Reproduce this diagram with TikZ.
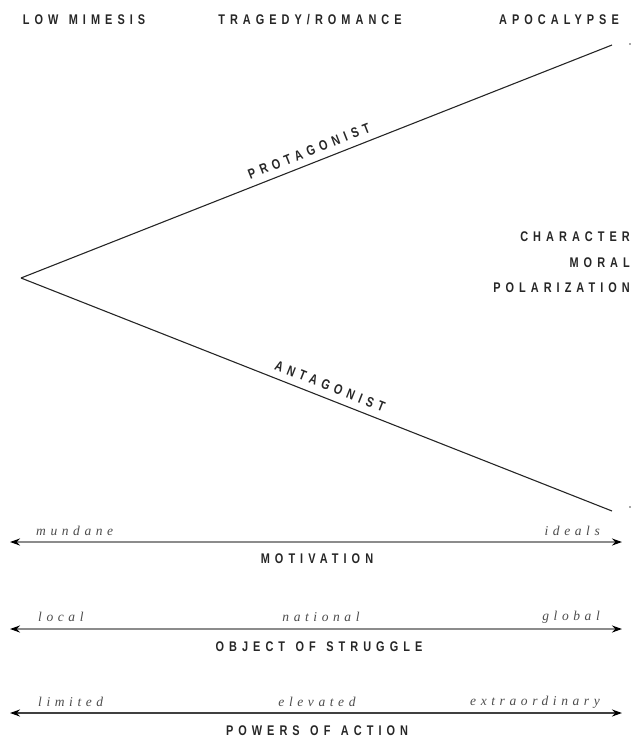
\documentclass[tikz,border=0pt]{standalone}
\usepackage{fontspec}
\usetikzlibrary{arrows.meta}
\newfontfamily\hdfont{Liberation Sans Bold}[FakeStretch=0.78, LetterSpace=36, WordSpace=1.3]
\newfontfamily\labfont{Liberation Serif Italic}[LetterSpace=34, WordSpace=1.5]
\begin{document}
\begin{tikzpicture}[x=1pt,y=-1pt,
  hd/.style={font=\hdfont\fontsize{14}{16}\selectfont, text=black!85, inner sep=0},
  lab/.style={font=\labfont\fontsize{13.5}{15}\selectfont, text=black!70, inner sep=0},
  wedgeline/.style={draw=black!85, line width=1.1pt},
  axisarrow/.style={line width=2.2pt, arrows={Stealth[length=10pt,width=7pt,black]-Stealth[length=10pt,width=7pt,black]}},
  ]
\useasboundingbox (0,0) rectangle (632,740);
% headers
\node[hd] (low) at (84,20) {LOW MIMESIS};
\node[hd] (trag) at (310,20) {TRAGEDY/ROMANCE};
\node[hd] (apoc) at (559,20) {APOCALYPSE};
% right block
\node[hd, anchor=east] (ch1) at (630,237) {CHARACTER};
\node[hd, anchor=east] (ch2) at (630,263) {MORAL};
\node[hd, anchor=east] (ch3) at (630,288) {POLARIZATION};
% wedge
\coordinate (v) at (21,278);
\coordinate (pe) at (612,45);
\coordinate (ae) at (612,511);
\draw[wedgeline] (v) -- node[hd, pos=0.495, sloped, above=7pt] (prot) {PROTAGONIST} (pe);
\draw[wedgeline] (v) -- node[hd, pos=0.515, sloped, above=7pt] (ant) {ANTAGONIST} (ae);
\fill[black!70] (630,44) circle (0.9);
\fill[black!70] (630,507) circle (0.9);
% motivation
\coordinate (m1) at (10,542);
\coordinate (m2) at (622,542);
\draw[axisarrow, draw=black!45] (m1) -- (m2);
\node[lab, anchor=west] (mund) at (36,531) {mundane};
\node[lab, anchor=east] (ideal) at (600,531) {ideals};
\node[hd] (mot) at (317,559) {MOTIVATION};
% struggle
\coordinate (s1) at (10,629);
\coordinate (s2) at (622,629);
\draw[axisarrow, draw=black!45] (s1) -- (s2);
\node[lab, anchor=west] (loc) at (38,617) {local};
\node[lab] (nat) at (321,617) {national};
\node[lab, anchor=east] (glob) at (600,617) {global};
\node[hd] (obj) at (319,647) {OBJECT OF STRUGGLE};
% powers
\coordinate (p1) at (10,713);
\coordinate (p2) at (622,713);
\draw[axisarrow, line width=1.7pt, draw=black!75] (p1) -- (p2);
\node[lab, anchor=west] (lim) at (38,702) {limited};
\node[lab] (elev) at (317,702) {elevated};
\node[lab, anchor=east] (extra) at (600,702) {extraordinary};
\node[hd] (pow) at (317,731) {POWERS OF ACTION};
\end{tikzpicture}
\end{document}
